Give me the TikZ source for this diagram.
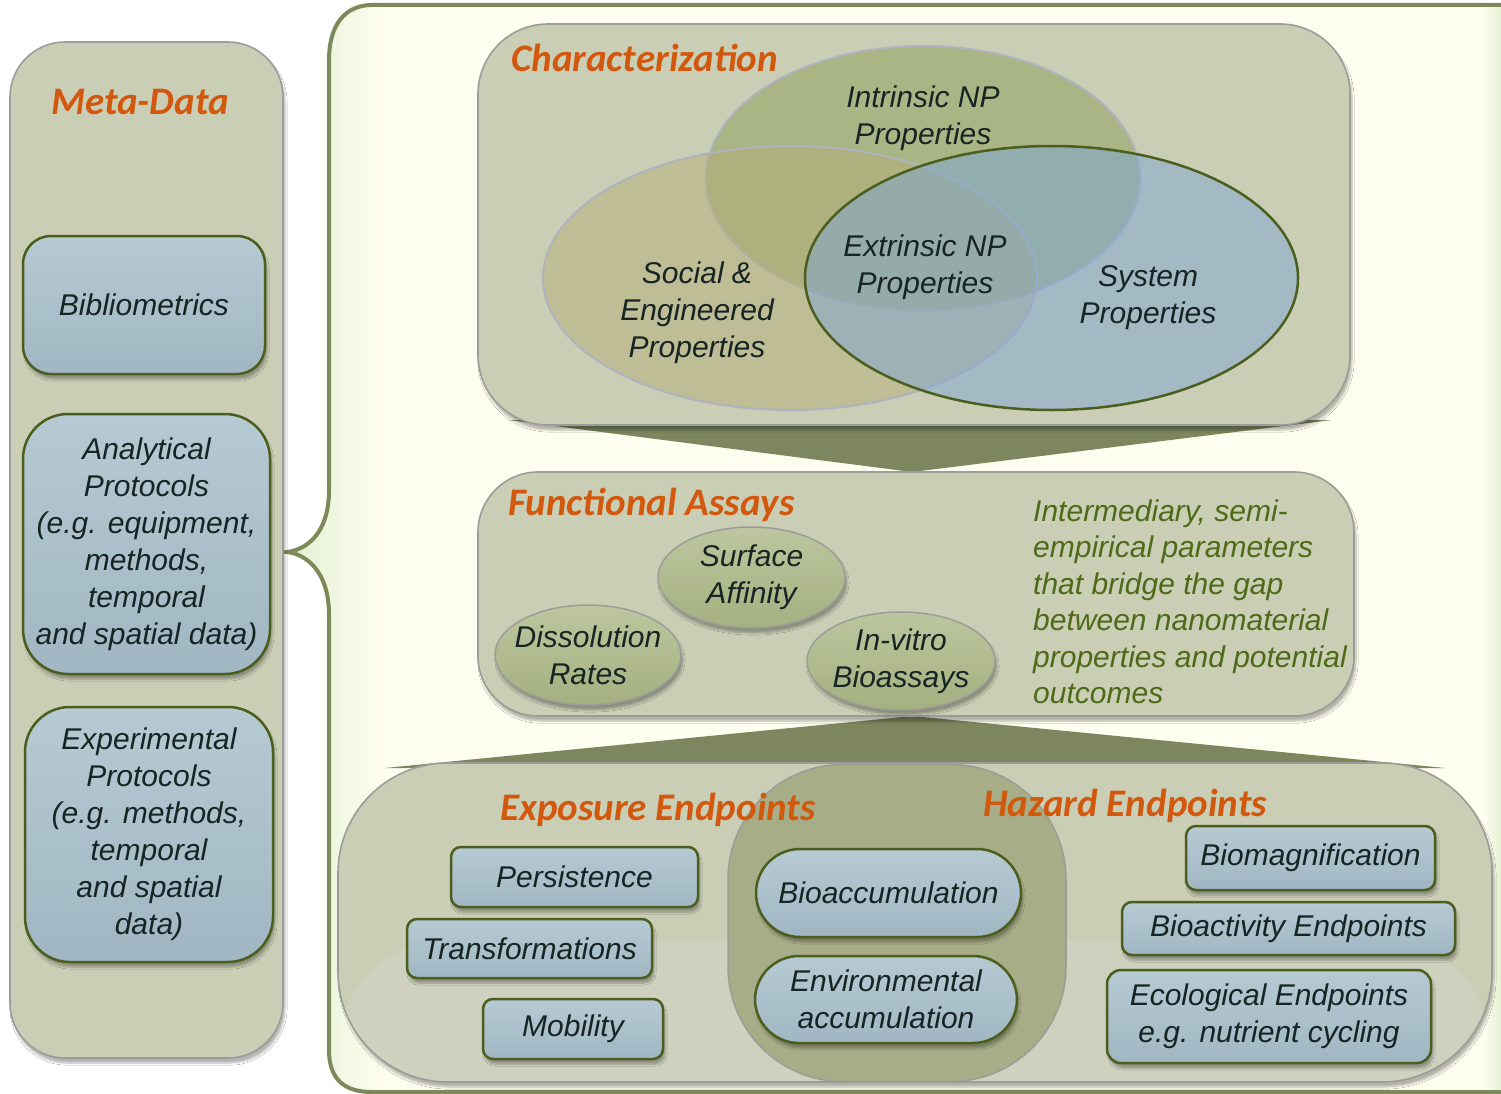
\documentclass[tikz,border=0pt]{standalone}
\usepackage{fontspec}
\setmainfont{Liberation Sans}
\newfontfamily\titlefont{Carlito}
\usetikzlibrary{shapes.geometric,shadows.blur}

\definecolor{cream}{HTML}{FEFEF0}
\definecolor{leafwash}{HTML}{E2F0D2}
\definecolor{framegreen}{HTML}{7E895A}
\definecolor{panelfill}{HTML}{CACEB5}
\definecolor{panellow}{HTML}{CDD1BE}
\definecolor{panelline}{HTML}{9C9D98}
\definecolor{titleorange}{HTML}{D2580E}
\definecolor{boxblue}{HTML}{A0B7C3}
\definecolor{boxbluetop}{HTML}{B6CAD3}
\definecolor{boxline}{HTML}{4B5E1E}
\definecolor{inktext}{HTML}{172424}
\definecolor{bubble}{HTML}{A4B080}
\definecolor{bubbletop}{HTML}{BDC69E}
\definecolor{band}{HTML}{7D865E}
\definecolor{notegreen}{HTML}{4E6A19}
\definecolor{hazardfill}{HTML}{A7AD86}
\definecolor{intrinsicfill}{HTML}{A9B585}
\definecolor{socialfill}{HTML}{B3AD78}
\definecolor{systemfill}{HTML}{7DA7D6}
\definecolor{vennline}{HTML}{B0B3BE}

% outline of the large bracketed frame
\newcommand\framepath{(1530,5) -- (372,5) .. controls (345,5) and (329,25) .. (329,60)
  -- (329,490) .. controls (329,535) and (305,550) .. (287,552)
  .. controls (305,554) and (329,570) .. (329,615)
  -- (329,1050) .. controls (329,1080) and (345,1092) .. (372,1092) -- (1530,1092)}

\begin{document}
\begin{tikzpicture}[x=1pt,y=-1pt,
  softshadow/.style={blur shadow={shadow blur steps=6, shadow xshift=2pt, shadow yshift=-5pt, shadow opacity=30}},
  panel/.style={draw=panelline, line width=1.6pt, fill=panelfill, inner sep=0pt, softshadow},
  txt/.style={text=inktext, font=\fontsize{30}{37}\selectfont\itshape, align=center},
  bluebox/.style={txt, draw=boxline, line width=2.5pt, top color=boxbluetop, bottom color=boxblue,
    inner sep=0pt, rounded corners=10pt, softshadow},
  bubblenode/.style={txt, ellipse, draw=panelline, line width=1.5pt, top color=bubbletop, bottom color=bubble,
    inner xsep=-25pt, inner ysep=-12pt, softshadow},
  venn/.style={ellipse, inner sep=0pt, line width=2pt},
  heading/.style={text=titleorange, font=\titlefont\fontsize{39}{44}\selectfont\bfseries\itshape, inner sep=0pt},
  note/.style={text=notegreen, font=\fontsize{30}{36.5}\selectfont\itshape, align=left, inner sep=0pt},
  bandfill/.style={fill=band}
]
\useasboundingbox (0,0) rectangle (1501,1094);
\fill[white] (0,0) rectangle (1501,1094);

% bracketed frame with its soft green edges
\fill[cream] \framepath;
\begin{scope}
  \clip \framepath;
  \shade[left color=leafwash, right color=cream] (287,0) rectangle (385,1094);
  \shade[left color=cream, right color=leafwash] (1484,0) rectangle (1501,1094);
\end{scope}
\draw[framegreen, line width=4pt] \framepath;

% left column: meta-data
\node[panel, rounded corners=55pt, minimum width=273pt, minimum height=1016pt] (meta) at (146.5,550) {};
\node[heading] (metatitle) at (140,102) {Meta-Data};
\node[bluebox, rounded corners=28pt, minimum width=242pt, minimum height=138pt] (biblio) at (144,305) {Bibliometrics};
\node[bluebox, rounded corners=45pt, minimum width=247pt, minimum height=260pt] (analytic) at (146.5,544)
  {Analytical\\Protocols\\(e.g. equipment,\\methods,\\temporal\\and spatial data)};
\node[bluebox, rounded corners=45pt, minimum width=248pt, minimum height=255pt] (experim) at (149,834.5)
  {Experimental\\Protocols\\(e.g. methods,\\temporal\\and spatial\\data)};

% wedges joining the three tiers
\fill[bandfill] (508,420) -- (1332,420) -- (912,472) -- cycle;
\fill[bandfill] (912,716) -- (1445,768) -- (385,768) -- cycle;

% characterization tier
\node[panel, rounded corners=70pt, minimum width=872pt, minimum height=401pt] (charbox) at (914,224.5) {};
\node[heading, anchor=west] (chartitle) at (511,58) {Characterization};
\node[venn, draw=vennline, fill=intrinsicfill, minimum width=434pt, minimum height=264pt] (intrinsic) at (923,178) {};
\node[venn, draw=vennline, fill=socialfill, fill opacity=0.5, minimum width=494pt, minimum height=264pt] (social) at (790,278) {};
\node[venn, draw=boxline, line width=2.5pt, fill=systemfill, fill opacity=0.5, minimum width=493pt, minimum height=264pt] (system) at (1051.5,278) {};
\node[txt] (intrinsiclbl) at (923,118) {Intrinsic NP\\Properties};
\node[txt] (sociallbl) at (697,313) {Social \&\\Engineered\\Properties};
\node[txt] (extrinsiclbl) at (925,267) {Extrinsic NP\\Properties};
\node[txt] (systemlbl) at (1148,298) {System\\Properties};

% functional assays tier
\node[panel, rounded corners=60pt, minimum width=876pt, minimum height=244pt] (funcbox) at (916,594) {};
\node[heading, anchor=west] (functitle) at (508,505) {Functional Assays};
\node[bubblenode, minimum width=187pt, minimum height=101pt] (surface) at (751.5,577.5) {Surface\\Affinity};
\node[bubblenode, minimum width=186pt, minimum height=100pt] (dissolution) at (588,655) {Dissolution\\Rates};
\node[bubblenode, minimum width=188pt, minimum height=98pt] (invitro) at (901,661) {In-vitro\\Bioassays};
\node[note, anchor=west] (funcnote) at (1033,602)
  {Intermediary, semi-\\empirical parameters\\that bridge the gap\\between nanomaterial\\properties and potential\\outcomes};

% endpoints tier
\node[panel, rounded corners=110pt, minimum width=1154pt, minimum height=319pt,
  path picture={\fill[panellow] ([yshift=-177pt]path picture bounding box.north west) rectangle (path picture bounding box.south east);}]
  (endbox) at (915,922.5) {};
\node[draw=panelline, line width=1.5pt, fill=hazardfill, rounded corners=115pt, inner sep=0pt,
  minimum width=338pt, minimum height=317pt] (hazardzone) at (897,923) {};
\node[heading, anchor=west] (exptitle) at (500,810) {Exposure Endpoints};
\node[heading, anchor=west] (hazardtitle) at (983,806) {Hazard Endpoints};

\node[bluebox, minimum width=247pt, minimum height=60pt] (persist) at (574.5,877) {Persistence};
\node[bluebox, minimum width=245pt, minimum height=59pt] (transform) at (529.5,948.5) {Transformations};
\node[bluebox, minimum width=180pt, minimum height=60pt] (mobility) at (573,1029) {Mobility};

\node[bluebox, rounded corners=44pt, minimum width=265pt, minimum height=88pt] (bioacc) at (888.5,893) {Bioaccumulation};
\node[bluebox, rounded corners=44pt, minimum width=262pt, minimum height=87pt] (envacc) at (886,999.5) {Environmental\\accumulation};

\node[bluebox, minimum width=249pt, minimum height=64pt] (biomag) at (1310.5,858) {Biomagnification};
\node[bluebox, minimum width=333pt, minimum height=53pt] (bioact) at (1288.5,928.5) {Bioactivity Endpoints};
\node[bluebox, rounded corners=14pt, minimum width=324pt, minimum height=93pt] (ecolog) at (1269,1016.5) {Ecological Endpoints\\e.g. nutrient cycling};
\end{tikzpicture}
\end{document}
